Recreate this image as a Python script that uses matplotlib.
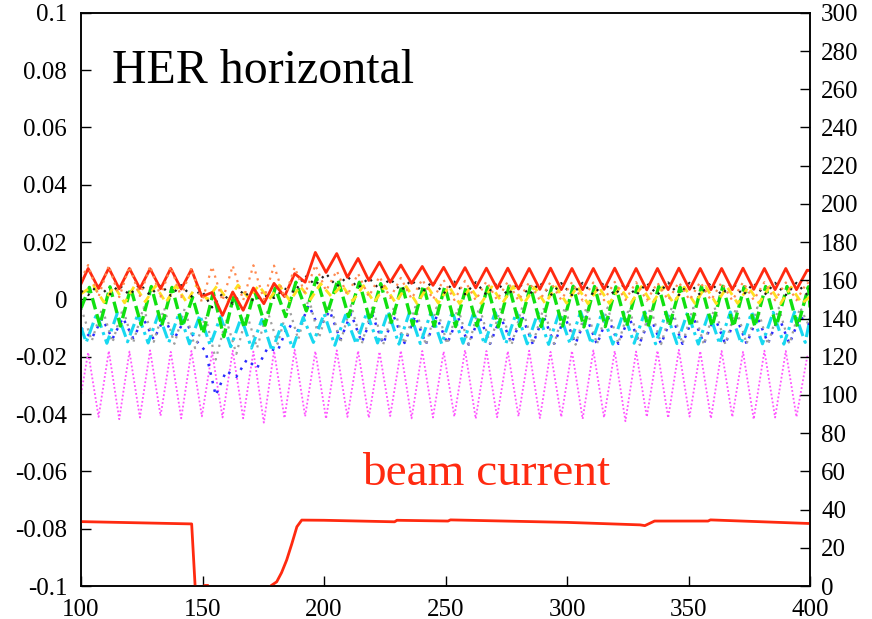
import matplotlib.pyplot as plt

# positions (x units) of the peaks and troughs of the red trace
x_pk = [102.9, 111.4, 119.9, 128.4, 136.9, 145.4, 153.9, 162.4, 170.9, 179.4,
        187.9, 196.4, 205.2, 214.0, 222.8, 231.6, 240.4, 249.2, 258.0, 266.8,
        275.6, 284.4, 293.2, 302.0, 310.8, 319.6, 328.4, 337.2, 346.0, 354.8,
        363.6, 372.4, 381.2, 390.0, 398.8]
x_tr = [107.2, 115.7, 124.2, 132.7, 141.2, 149.7, 158.2, 166.7, 175.2, 183.7,
        192.2, 200.8, 209.6, 218.4, 227.2, 236.0, 244.8, 253.6, 262.4, 271.2,
        280.0, 288.8, 297.6, 306.4, 315.2, 324.0, 332.8, 341.6, 350.4, 359.2,
        368.0, 376.8, 385.6, 394.4]

# values in units of 1e-3, taken at x_pk / x_tr
red_pk = [10.8, 10.9, 10.8, 10.7, 10.8, 10.4, 2.4, 2.6, 4.0, 5.6,
          9.0, 16.4, 16.0, 14.3, 13.0, 12.0, 11.5, 11.2, 11.1, 10.9,
          10.9, 10.8, 10.9, 10.8, 10.8, 10.9, 10.8, 10.8, 10.9, 10.8,
          10.8, 10.9, 10.8, 10.8, 10.2]
red_tr = [3.8, 3.7, 3.8, 3.7, 3.6, 1.0, -5.6, -3.8, -1.5, 1.0,
          6.0, 9.4, 7.7, 6.6, 6.0, 5.6, 4.9, 4.4, 4.0, 3.8,
          3.6, 3.5, 3.4, 3.4, 3.5, 3.4, 3.3, 3.4, 3.5, 3.4, 3.4, 3.5, 3.4, 3.4]

orange_pk = [12.0, 11.8, 11.5, 11.6, 11.4, 11.0, 11.5, 11.8, 11.9, 11.8,
             11.2, 12.0, 10.0, 9.0, 8.0, 7.5, 7.0, 6.8, 6.5, 6.3,
             6.2, 6.0, 6.1, 6.0, 5.9, 6.1, 6.0, 5.8, 6.0, 6.1,
             5.9, 6.0, 6.0, 5.9, 6.0]
orange_tr = [1.0, 0.8, 1.2, 1.0, 0.8, -1.0, -0.5, -0.3, 0.0, 0.5,
             2.0, 3.0, 1.5, 1.0, 0.5, 0.2, 0.0, -0.2, -0.3, -0.2,
             -0.4, -0.3, -0.2, -0.4, -0.3, -0.2, -0.4, -0.3, -0.2, -0.3,
             -0.4, -0.2, -0.3, -0.3]

black_pk = [1.5, 1.4, 1.6, 1.5, 1.3, 1.0, -2.8, -1.5, -0.5, 0.5,
            2.5, 5.0, 4.5, 4.0, 3.5, 3.0, 2.5, 2.0, 1.8, 1.6,
            1.5, 1.6, 1.4, 1.5, 1.6, 1.5, 1.4, 1.6, 1.5, 1.5,
            1.6, 1.4, 1.5, 1.5, 1.6]
black_tr = [5.2, 5.0, 5.3, 5.1, 5.0, 3.0, 2.1, 3.1, 1.4, 3.8,
            8.4, 9.0, 8.0, 7.5, 7.2, 6.8, 6.5, 6.2, 6.0, 5.9,
            5.8, 5.9, 5.7, 5.8, 5.9, 5.8, 5.7, 5.9, 5.8, 5.8,
            5.9, 5.7, 5.8, 5.8]

yellow_pk = [4.8, 4.6, 4.9, 4.7, 4.8, 5.0, 4.9, 5.0, 4.8, 5.0,
             4.6, 5.5, 5.0, 4.8, 4.6, 4.5, 4.4, 4.5, 4.3, 4.4,
             4.5, 4.3, 4.4, 4.5, 4.4, 4.3, 4.5, 4.4, 4.3, 4.5,
             4.4, 4.4, 4.5, 4.3, 4.4]
yellow_tr = [-1.0, -1.2, -0.8, -1.1, -1.0, 0.0, -0.5, 0.5, 0.0, -0.5,
             0.0, 1.0, -0.5, -1.0, -1.2, -1.4, -1.3, -1.5, -1.4, -1.3,
             -1.5, -1.4, -1.3, -1.5, -1.4, -1.4, -1.5, -1.3, -1.4, -1.5,
             -1.4, -1.3, -1.5, -1.4]

green_pk = [4.2, 4.4, 4.0, 4.5, 4.2, 0.7, 2.4, 1.5, 3.0, 4.0,
            6.0, 7.5, 7.0, 6.0, 5.5, 5.0, 4.8, 4.6, 4.5, 4.4,
            4.6, 4.5, 4.3, 4.6, 4.5, 4.4, 4.6, 4.5, 4.3, 4.5,
            4.6, 4.4, 4.5, 4.5, 4.4]
green_tr = [-9.0, -9.3, -8.8, -9.2, -9.5, -12.0, -13.0, -10.0, -9.0, -6.0,
            -4.0, -5.0, -6.0, -7.5, -8.0, -9.0, -9.3, -9.5, -9.2, -9.6,
            -9.4, -9.5, -9.3, -9.6, -9.5, -9.4, -9.6, -9.3, -9.5, -9.4,
            -9.6, -9.5, -9.4, -9.5]

cyan_pk = [-15.0, -15.3, -14.8, -15.2, -15.0, -15.5, -16.0, -16.5, -17.0, -18.0,
           -17.0, -15.0, -16.0, -15.5, -15.2, -15.6, -15.4, -15.5, -15.3, -15.6,
           -15.4, -15.5, -15.7, -15.4, -15.5, -15.6, -15.3, -15.5, -15.4, -15.6,
           -15.5, -15.3, -15.5, -15.6, -15.0]
cyan_tr = [-5.0, -4.8, -5.2, -5.0, -4.6, -5.5, -6.0, -6.3, -7.0, -8.0,
           -6.3, -5.0, -5.5, -4.5, -4.2, -4.4, -4.5, -4.3, -4.6, -4.5,
           -4.4, -4.6, -4.5, -4.3, -4.5, -4.6, -4.4, -4.5, -4.5, -4.6,
           -4.4, -4.5, -4.5, -4.4]

grey_pk = [-14.5, -15.0, -15.2, -14.8, -15.5, -17.0, -21.0, -19.0, -17.0, -15.5,
           -14.0, -13.5, -15.0, -15.5, -15.8, -15.5, -16.0, -15.6, -15.8, -15.4,
           -15.9, -15.6, -15.5, -15.8, -15.6, -15.4, -15.9, -15.6, -15.5, -15.8,
           -15.6, -15.5, -15.8, -15.6, -15.5]
grey_tr = [-3.0, -3.2, -2.8, -3.1, -3.0, -6.0, -7.0, -5.0, -4.0, -2.0,
           0.5, -1.0, -2.0, -2.5, -2.8, -2.6, -2.8, -3.0, -2.7, -2.9,
           -2.8, -3.0, -2.7, -2.9, -2.8, -3.0, -2.8, -2.7, -2.9, -2.8,
           -3.0, -2.8, -2.9, -2.8]

blue_pk = [-13.6, -13.8, -13.5, -14.0, -13.6, -14.0, -33.5, -27.0, -24.0, -18.0,
           -11.0, -10.0, -14.0, -15.0, -15.5, -15.2, -15.6, -15.4, -15.8, -15.5,
           -15.3, -15.6, -15.5, -15.4, -15.7, -15.5, -15.3, -15.6, -15.5, -15.4,
           -15.6, -15.5, -15.3, -15.5, -15.2]
blue_tr = [-6.6, -6.4, -6.8, -6.5, -7.0, -18.0, -25.0, -21.0, -17.0, -9.0,
           -2.0, -4.0, -5.0, -5.5, -6.0, -5.8, -6.0, -6.2, -5.9, -6.1,
           -6.0, -5.8, -6.1, -6.0, -5.9, -6.2, -6.0, -5.8, -6.1, -6.0,
           -5.9, -6.1, -6.0, -6.0]

magenta_pk = [-18.5, -18.0, -18.2, -17.8, -18.3, -18.0, -18.4, -17.9, -18.2, -18.0,
              -17.6, -18.1, -17.8, -18.0, -18.3, -17.9, -18.0, -18.2, -17.7, -18.0,
              -18.1, -17.9, -18.3, -18.0, -17.8, -18.0, -18.2, -17.9, -17.6, -18.1,
              -18.0, -18.3, -17.9, -18.0, -20.0]
magenta_tr = [-41.0, -41.8, -41.2, -40.6, -41.5, -40.8, -41.2, -41.5, -43.0, -41.4,
              -40.8, -41.6, -41.0, -41.3, -40.7, -41.5, -41.2, -40.9, -41.6, -41.1,
              -40.8, -41.4, -41.0, -41.7, -41.2, -42.5, -41.0, -41.3, -40.9, -41.5,
              -41.0, -41.8, -41.2, -41.0]

# value of each trace at x = 100 and x = 400 (1e-3 units)
ends = {
    "red": (5.5, 10.0), "orange": (7.0, 5.0), "black": (3.0, 4.0),
    "yellow": (2.0, 1.0), "green": (-3.0, -2.8), "cyan": (-9.8, -6.6),
    "grey": (-3.0, -10.0), "blue": (-10.0, -9.0), "magenta": (-33.0, -19.5),
}

# beam current (right axis)
bc_x = [100, 145.5, 146.9, 147.3, 150.3, 150.8, 152.2, 152.6, 177.0, 178.2,
        180.5, 182.5, 184.6, 186.7, 188.8, 190.8, 200, 229, 230, 251,
        252, 300, 330, 332, 336, 358, 359, 400]
bc_y = [33.7, 32.5, 0.5, -3, -3, 0.3, 0.3, -3, -3, 0.2,
        2.2, 7.0, 13.6, 22.0, 31.0, 34.5, 34.4, 33.6, 34.4, 34.0,
        34.6, 33.3, 32.0, 31.6, 34.0, 34.0, 34.6, 32.7]

xticks = [100, 150, 200, 250, 300, 350, 400]
yticks = [-0.1, -0.08, -0.06, -0.04, -0.02, 0, 0.02, 0.04, 0.06, 0.08, 0.1]
ylabels = ["-0.1", "-0.08", "-0.06", "-0.04", "-0.02", "0",
           "0.02", "0.04", "0.06", "0.08", "0.1"]
y2ticks = list(range(0, 301, 20))


def trace(name, pk, tr, shift=0.0):
    # zigzag through the read peaks and troughs
    start, end = ends[name]
    xs, ys = [100], [start * 1e-3]
    for i in range(len(pk)):
        if x_pk[i] + shift < 400:
            xs.append(x_pk[i] + shift)
            ys.append(pk[i] * 1e-3)
        if i < len(tr) and x_tr[i] + shift < 400:
            xs.append(x_tr[i] + shift)
            ys.append(tr[i] * 1e-3)
    xs.append(400)
    ys.append(end * 1e-3)
    return xs, ys


plt.rcParams['font.family'] = ['Liberation Serif', 'DejaVu Serif']
fig = plt.figure(figsize=(8.72, 6.19), dpi=100)
ax = fig.add_axes([0.093, 0.0533, 0.836, 0.926])

RED = '#ff2a10'
styles = [
    ("magenta", magenta_pk, magenta_tr, 0.0, dict(color='#ff55ff', lw=1.3, ls=(0, (1, 1.2)))),
    ("blue", blue_pk, blue_tr, 1.5, dict(color='#2a2aff', lw=1.8, ls=(0, (1, 2.5)))),
    ("grey", grey_pk, grey_tr, 1.5, dict(color='#a0a0a0', lw=1.6, ls=(0, (1, 2.2)))),
    ("cyan", cyan_pk, cyan_tr, -0.8, dict(color='#18d8f0', lw=2.2, ls=(0, (4, 1.5, 1, 1.5)))),
    ("green", green_pk, green_tr, 0.5, dict(color='#10e010', lw=2.4, ls=(0, (3.5, 1.5)))),
    ("yellow", yellow_pk, yellow_tr, 2.2, dict(color='#ffe020', lw=2.0, ls=(0, (3, 2)))),
    ("black", black_pk, black_tr, 0.0, dict(color='#202020', lw=1.6, ls=(0, (1, 2.5)))),
    ("red", red_pk, red_tr, 0.0, dict(color=RED, lw=2.0, ls='-')),
    ("orange", orange_pk, orange_tr, 0.0, dict(color='#ff8a50', lw=1.6, ls=(0, (1, 2.2)))),
]
for name, pk, tr, shift, st in styles:
    xs, ys = trace(name, pk, tr, shift)
    ax.plot(xs, ys, **st)

ax.set_xlim(100, 400)
ax.set_ylim(-0.1, 0.1)
ax.set_xticks(xticks)
ax.set_yticks(yticks)
ax.set_yticklabels(ylabels)
ax.tick_params(direction='in', length=7, width=1, labelsize=18)
ax.tick_params(axis='y', pad=10)
ax.tick_params(axis='x', pad=9)

ax2 = ax.twinx()
ax2.plot(bc_x, bc_y, color=RED, lw=2.0)
ax2.set_ylim(0, 300)
ax2.set_yticks(y2ticks)
ax2.tick_params(direction='in', length=7, width=1, labelsize=18, pad=8)

for a in (ax, ax2):
    for sp in a.spines.values():
        sp.set_linewidth(1.1)

ax.text(112.8, 0.0755, "HER horizontal", fontsize=34.5, color='black')
ax.text(215.6, -0.0649, "beam current", fontsize=34, color=RED)

fig.savefig("out.png", dpi=100)
